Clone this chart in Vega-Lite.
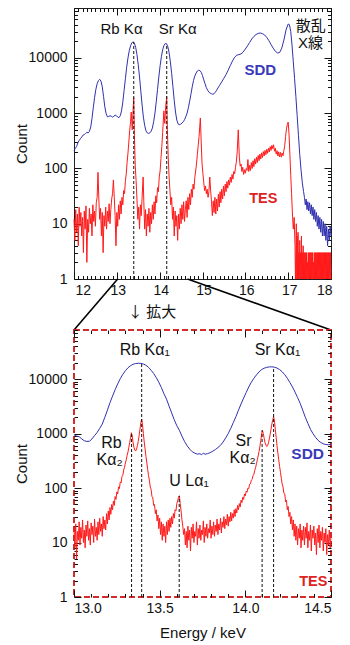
{
"$schema": "https://vega.github.io/schema/vega-lite/v6.json",
"padding": {"left": 13, "top": 7, "right": 0, "bottom": 0},
"background": "white",
"bounds": "flush",
"spacing": 51,
"datasets": {
"sddTop": [{"e":12,"c":210},{"e":12.03,"c":230},{"e":12.06,"c":250},{"e":12.09,"c":290},{"e":12.12,"c":320},{"e":12.15,"c":345},{"e":12.18,"c":370},{"e":12.21,"c":400},{"e":12.24,"c":410},{"e":12.27,"c":430},{"e":12.3,"c":450},{"e":12.33,"c":440},{"e":12.36,"c":470},{"e":12.39,"c":560},{"e":12.42,"c":800},{"e":12.45,"c":1250},{"e":12.48,"c":1900},{"e":12.51,"c":2700},{"e":12.54,"c":3400},{"e":12.57,"c":3900},{"e":12.6,"c":4100},{"e":12.63,"c":3800},{"e":12.66,"c":3000},{"e":12.69,"c":2000},{"e":12.72,"c":1300},{"e":12.75,"c":980},{"e":12.78,"c":860},{"e":12.81,"c":870},{"e":12.84,"c":900},{"e":12.87,"c":880},{"e":12.9,"c":850},{"e":12.93,"c":880},{"e":12.96,"c":920},{"e":12.99,"c":900},{"e":13.02,"c":850},{"e":13.05,"c":830},{"e":13.08,"c":900},{"e":13.11,"c":1100},{"e":13.14,"c":1600},{"e":13.17,"c":2600},{"e":13.2,"c":4200},{"e":13.23,"c":6800},{"e":13.26,"c":10000},{"e":13.29,"c":13500},{"e":13.32,"c":16500},{"e":13.35,"c":18800},{"e":13.38,"c":19500},{"e":13.41,"c":18500},{"e":13.44,"c":15500},{"e":13.47,"c":11500},{"e":13.5,"c":7500},{"e":13.53,"c":4500},{"e":13.56,"c":2500},{"e":13.59,"c":1400},{"e":13.62,"c":850},{"e":13.65,"c":600},{"e":13.68,"c":480},{"e":13.71,"c":440},{"e":13.74,"c":430},{"e":13.77,"c":440},{"e":13.8,"c":470},{"e":13.83,"c":540},{"e":13.86,"c":700},{"e":13.89,"c":1000},{"e":13.92,"c":1600},{"e":13.95,"c":2700},{"e":13.98,"c":4500},{"e":14.01,"c":7200},{"e":14.04,"c":10500},{"e":14.07,"c":14000},{"e":14.1,"c":16800},{"e":14.13,"c":18200},{"e":14.16,"c":18000},{"e":14.19,"c":16000},{"e":14.22,"c":12500},{"e":14.25,"c":8500},{"e":14.28,"c":5200},{"e":14.31,"c":3000},{"e":14.34,"c":1700},{"e":14.37,"c":1050},{"e":14.4,"c":750},{"e":14.43,"c":640},{"e":14.46,"c":620},{"e":14.49,"c":630},{"e":14.52,"c":660},{"e":14.55,"c":700},{"e":14.58,"c":760},{"e":14.61,"c":860},{"e":14.64,"c":1000},{"e":14.67,"c":1250},{"e":14.7,"c":1650},{"e":14.73,"c":2200},{"e":14.76,"c":3000},{"e":14.79,"c":3900},{"e":14.82,"c":4700},{"e":14.85,"c":5300},{"e":14.88,"c":5800},{"e":14.91,"c":6000},{"e":14.94,"c":5900},{"e":14.97,"c":5500},{"e":15,"c":4800},{"e":15.03,"c":4000},{"e":15.06,"c":3400},{"e":15.09,"c":2900},{"e":15.12,"c":2600},{"e":15.15,"c":2400},{"e":15.18,"c":2300},{"e":15.21,"c":2250},{"e":15.24,"c":2200},{"e":15.27,"c":2250},{"e":15.3,"c":2400},{"e":15.33,"c":2600},{"e":15.36,"c":2850},{"e":15.4,"c":3200},{"e":15.45,"c":3700},{"e":15.5,"c":4300},{"e":15.55,"c":5000},{"e":15.6,"c":6000},{"e":15.65,"c":7300},{"e":15.7,"c":8800},{"e":15.75,"c":10300},{"e":15.8,"c":11200},{"e":15.85,"c":11500},{"e":15.9,"c":11800},{"e":15.95,"c":12800},{"e":16,"c":14500},{"e":16.05,"c":16500},{"e":16.1,"c":19000},{"e":16.15,"c":22000},{"e":16.2,"c":24500},{"e":16.25,"c":26500},{"e":16.3,"c":27800},{"e":16.35,"c":28200},{"e":16.4,"c":27500},{"e":16.45,"c":26000},{"e":16.5,"c":23500},{"e":16.55,"c":20500},{"e":16.6,"c":17500},{"e":16.65,"c":15000},{"e":16.7,"c":13200},{"e":16.75,"c":12300},{"e":16.8,"c":12500},{"e":16.85,"c":15000},{"e":16.9,"c":21000},{"e":16.95,"c":32000},{"e":17,"c":41000},{"e":17.03,"c":40000},{"e":17.06,"c":30000},{"e":17.09,"c":17000},{"e":17.12,"c":8500},{"e":17.15,"c":4200},{"e":17.18,"c":2000},{"e":17.21,"c":900},{"e":17.24,"c":400},{"e":17.27,"c":180},{"e":17.3,"c":95},{"e":17.33,"c":55},{"e":17.36,"c":38},{"e":17.38,"c":30},{"e":17.4,"c":22},{"e":17.42,"c":28},{"e":17.44,"c":18},{"e":17.46,"c":25},{"e":17.48,"c":17},{"e":17.5,"c":24},{"e":17.52,"c":15},{"e":17.54,"c":22},{"e":17.56,"c":14},{"e":17.58,"c":20},{"e":17.6,"c":12},{"e":17.62,"c":18},{"e":17.64,"c":11},{"e":17.66,"c":16},{"e":17.68,"c":9},{"e":17.7,"c":14},{"e":17.72,"c":8},{"e":17.74,"c":13},{"e":17.76,"c":7},{"e":17.78,"c":12},{"e":17.8,"c":6},{"e":17.82,"c":11},{"e":17.84,"c":6},{"e":17.86,"c":10},{"e":17.88,"c":5},{"e":17.9,"c":9},{"e":17.92,"c":4},{"e":17.94,"c":8},{"e":17.96,"c":5},{"e":17.98,"c":9},{"e":18,"c":6}],
"tesTop": [{"e":12,"c":12},{"e":12.02,"c":5},{"e":12.04,"c":18},{"e":12.06,"c":7},{"e":12.08,"c":15},{"e":12.1,"c":4},{"e":12.12,"c":20},{"e":12.14,"c":9},{"e":12.16,"c":16},{"e":12.18,"c":6},{"e":12.2,"c":13},{"e":12.22,"c":3},{"e":12.24,"c":17},{"e":12.26,"c":8},{"e":12.28,"c":21},{"e":12.3,"c":2},{"e":12.32,"c":12},{"e":12.34,"c":7},{"e":12.36,"c":19},{"e":12.38,"c":10},{"e":12.4,"c":15},{"e":12.42,"c":6},{"e":12.44,"c":22},{"e":12.46,"c":11},{"e":12.48,"c":17},{"e":12.5,"c":9},{"e":12.52,"c":24},{"e":12.54,"c":30},{"e":12.56,"c":85},{"e":12.58,"c":28},{"e":12.6,"c":12},{"e":12.62,"c":19},{"e":12.64,"c":6},{"e":12.66,"c":16},{"e":12.68,"c":3},{"e":12.7,"c":14},{"e":12.72,"c":9},{"e":12.74,"c":20},{"e":12.76,"c":8},{"e":12.78,"c":17},{"e":12.8,"c":11},{"e":12.82,"c":23},{"e":12.84,"c":10},{"e":12.86,"c":18},{"e":12.88,"c":28},{"e":12.9,"c":35},{"e":12.92,"c":62},{"e":12.94,"c":30},{"e":12.96,"c":14},{"e":12.98,"c":4},{"e":13,"c":16},{"e":13.02,"c":9},{"e":13.04,"c":22},{"e":13.06,"c":12},{"e":13.08,"c":26},{"e":13.1,"c":15},{"e":13.12,"c":30},{"e":13.14,"c":22},{"e":13.16,"c":40},{"e":13.18,"c":35},{"e":13.2,"c":60},{"e":13.22,"c":80},{"e":13.24,"c":130},{"e":13.26,"c":190},{"e":13.28,"c":300},{"e":13.3,"c":480},{"e":13.32,"c":700},{"e":13.336,"c":1050},{"e":13.36,"c":500},{"e":13.38,"c":1200},{"e":13.395,"c":1900},{"e":13.41,"c":400},{"e":13.43,"c":110},{"e":13.45,"c":60},{"e":13.47,"c":28},{"e":13.49,"c":12},{"e":13.51,"c":20},{"e":13.53,"c":8},{"e":13.55,"c":22},{"e":13.57,"c":14},{"e":13.59,"c":30},{"e":13.614,"c":70},{"e":13.63,"c":25},{"e":13.65,"c":8},{"e":13.67,"c":18},{"e":13.69,"c":6},{"e":13.71,"c":15},{"e":13.73,"c":9},{"e":13.75,"c":19},{"e":13.77,"c":7},{"e":13.79,"c":16},{"e":13.81,"c":10},{"e":13.83,"c":22},{"e":13.85,"c":12},{"e":13.87,"c":25},{"e":13.89,"c":15},{"e":13.91,"c":32},{"e":13.93,"c":24},{"e":13.95,"c":45},{"e":13.97,"c":38},{"e":13.99,"c":70},{"e":14.01,"c":90},{"e":14.03,"c":150},{"e":14.05,"c":250},{"e":14.07,"c":450},{"e":14.098,"c":1100},{"e":14.12,"c":650},{"e":14.14,"c":1300},{"e":14.165,"c":2000},{"e":14.18,"c":500},{"e":14.2,"c":160},{"e":14.22,"c":70},{"e":14.24,"c":40},{"e":14.26,"c":22},{"e":14.28,"c":30},{"e":14.3,"c":12},{"e":14.32,"c":20},{"e":14.34,"c":6},{"e":14.36,"c":17},{"e":14.38,"c":9},{"e":14.4,"c":14},{"e":14.42,"c":5},{"e":14.44,"c":15},{"e":14.46,"c":8},{"e":14.48,"c":19},{"e":14.5,"c":10},{"e":14.52,"c":22},{"e":14.54,"c":12},{"e":14.56,"c":25},{"e":14.58,"c":11},{"e":14.6,"c":18},{"e":14.62,"c":26},{"e":14.64,"c":13},{"e":14.66,"c":30},{"e":14.68,"c":18},{"e":14.7,"c":35},{"e":14.72,"c":22},{"e":14.74,"c":42},{"e":14.76,"c":30},{"e":14.78,"c":52},{"e":14.8,"c":42},{"e":14.82,"c":68},{"e":14.84,"c":90},{"e":14.86,"c":120},{"e":14.88,"c":180},{"e":14.9,"c":260},{"e":14.92,"c":380},{"e":14.95,"c":820},{"e":14.97,"c":300},{"e":14.99,"c":120},{"e":15.01,"c":80},{"e":15.03,"c":55},{"e":15.05,"c":40},{"e":15.07,"c":48},{"e":15.09,"c":35},{"e":15.11,"c":42},{"e":15.13,"c":30},{"e":15.15,"c":38},{"e":15.17,"c":70},{"e":15.19,"c":40},{"e":15.21,"c":25},{"e":15.23,"c":14},{"e":15.25,"c":26},{"e":15.27,"c":16},{"e":15.29,"c":30},{"e":15.31,"c":15},{"e":15.33,"c":28},{"e":15.35,"c":17},{"e":15.37,"c":34},{"e":15.39,"c":20},{"e":15.41,"c":38},{"e":15.43,"c":24},{"e":15.45,"c":42},{"e":15.47,"c":28},{"e":15.49,"c":48},{"e":15.51,"c":32},{"e":15.53,"c":52},{"e":15.55,"c":38},{"e":15.57,"c":58},{"e":15.59,"c":44},{"e":15.61,"c":62},{"e":15.63,"c":50},{"e":15.65,"c":70},{"e":15.67,"c":56},{"e":15.69,"c":78},{"e":15.71,"c":64},{"e":15.73,"c":88},{"e":15.75,"c":80},{"e":15.77,"c":105},{"e":15.79,"c":130},{"e":15.81,"c":200},{"e":15.835,"c":500},{"e":15.86,"c":160},{"e":15.88,"c":110},{"e":15.9,"c":120},{"e":15.92,"c":88},{"e":15.94,"c":105},{"e":15.96,"c":78},{"e":15.98,"c":95},{"e":16,"c":82},{"e":16.02,"c":100},{"e":16.04,"c":92},{"e":16.06,"c":145},{"e":16.08,"c":88},{"e":16.1,"c":115},{"e":16.12,"c":92},{"e":16.14,"c":128},{"e":16.16,"c":100},{"e":16.18,"c":138},{"e":16.2,"c":108},{"e":16.22,"c":150},{"e":16.24,"c":120},{"e":16.26,"c":160},{"e":16.28,"c":128},{"e":16.3,"c":172},{"e":16.32,"c":138},{"e":16.34,"c":182},{"e":16.36,"c":148},{"e":16.38,"c":192},{"e":16.4,"c":158},{"e":16.42,"c":202},{"e":16.44,"c":168},{"e":16.46,"c":212},{"e":16.48,"c":178},{"e":16.5,"c":222},{"e":16.52,"c":188},{"e":16.54,"c":232},{"e":16.56,"c":198},{"e":16.58,"c":248},{"e":16.6,"c":212},{"e":16.62,"c":262},{"e":16.64,"c":228},{"e":16.66,"c":268},{"e":16.68,"c":205},{"e":16.7,"c":232},{"e":16.72,"c":182},{"e":16.74,"c":210},{"e":16.76,"c":168},{"e":16.78,"c":200},{"e":16.8,"c":162},{"e":16.82,"c":195},{"e":16.84,"c":160},{"e":16.86,"c":190},{"e":16.88,"c":170},{"e":16.9,"c":210},{"e":16.92,"c":260},{"e":16.94,"c":380},{"e":16.96,"c":520},{"e":16.98,"c":620},{"e":17,"c":690},{"e":17.02,"c":420},{"e":17.04,"c":180},{"e":17.06,"c":75},{"e":17.08,"c":35},{"e":17.1,"c":15},{"e":17.12,"c":8},{"e":17.14,"c":13},{"e":17.16,"c":4},{"e":17.17,"c":1},{"e":17.18,"c":3},{"e":17.19,"c":10},{"e":17.2,"c":1},{"e":17.21,"c":6},{"e":17.22,"c":1},{"e":17.23,"c":7},{"e":17.24,"c":1},{"e":17.25,"c":3},{"e":17.26,"c":1},{"e":17.27,"c":5},{"e":17.28,"c":1},{"e":17.29,"c":3},{"e":17.3,"c":1},{"e":17.31,"c":6},{"e":17.32,"c":1},{"e":17.33,"c":3},{"e":17.34,"c":1},{"e":17.35,"c":4},{"e":17.36,"c":1},{"e":17.37,"c":3},{"e":17.38,"c":1},{"e":17.39,"c":3},{"e":17.4,"c":1},{"e":17.41,"c":3},{"e":17.42,"c":1},{"e":17.43,"c":3},{"e":17.44,"c":1},{"e":17.45,"c":2},{"e":17.46,"c":1},{"e":17.47,"c":3},{"e":17.48,"c":1},{"e":17.49,"c":3},{"e":17.5,"c":1},{"e":17.51,"c":3},{"e":17.52,"c":1},{"e":17.53,"c":3},{"e":17.54,"c":1},{"e":17.55,"c":3},{"e":17.56,"c":1},{"e":17.57,"c":3},{"e":17.58,"c":1},{"e":17.59,"c":2},{"e":17.6,"c":1},{"e":17.61,"c":3},{"e":17.62,"c":1},{"e":17.63,"c":3},{"e":17.64,"c":1},{"e":17.65,"c":3},{"e":17.66,"c":1},{"e":17.67,"c":3},{"e":17.68,"c":1},{"e":17.69,"c":3},{"e":17.7,"c":1},{"e":17.71,"c":3},{"e":17.72,"c":1},{"e":17.73,"c":3},{"e":17.74,"c":1},{"e":17.75,"c":3},{"e":17.76,"c":1},{"e":17.77,"c":3},{"e":17.78,"c":1},{"e":17.79,"c":3},{"e":17.8,"c":1},{"e":17.81,"c":3},{"e":17.82,"c":1},{"e":17.83,"c":3},{"e":17.84,"c":1},{"e":17.85,"c":3},{"e":17.86,"c":1},{"e":17.87,"c":3},{"e":17.88,"c":1},{"e":17.89,"c":3},{"e":17.9,"c":1},{"e":17.91,"c":3},{"e":17.92,"c":1},{"e":17.93,"c":3},{"e":17.94,"c":1},{"e":17.95,"c":3},{"e":17.96,"c":1},{"e":17.97,"c":3},{"e":17.98,"c":1},{"e":17.99,"c":3},{"e":18,"c":1}],
"sddBot": [{"e":13,"c":950},{"e":13.015,"c":900},{"e":13.03,"c":880},{"e":13.045,"c":800},{"e":13.06,"c":740},{"e":13.075,"c":720},{"e":13.09,"c":725},{"e":13.105,"c":800},{"e":13.12,"c":920},{"e":13.135,"c":1050},{"e":13.15,"c":1250},{"e":13.165,"c":1500},{"e":13.18,"c":2000},{"e":13.195,"c":2700},{"e":13.21,"c":3700},{"e":13.225,"c":4900},{"e":13.24,"c":6400},{"e":13.255,"c":8200},{"e":13.27,"c":10200},{"e":13.285,"c":12300},{"e":13.3,"c":14300},{"e":13.315,"c":16200},{"e":13.33,"c":17700},{"e":13.345,"c":18800},{"e":13.36,"c":19400},{"e":13.375,"c":19600},{"e":13.39,"c":19500},{"e":13.405,"c":19000},{"e":13.42,"c":18000},{"e":13.435,"c":16500},{"e":13.45,"c":14600},{"e":13.465,"c":12700},{"e":13.48,"c":10700},{"e":13.495,"c":8800},{"e":13.51,"c":7000},{"e":13.525,"c":5400},{"e":13.54,"c":4300},{"e":13.555,"c":3200},{"e":13.57,"c":2400},{"e":13.585,"c":1800},{"e":13.6,"c":1400},{"e":13.615,"c":1150},{"e":13.63,"c":900},{"e":13.645,"c":720},{"e":13.66,"c":600},{"e":13.675,"c":520},{"e":13.69,"c":465},{"e":13.705,"c":438},{"e":13.72,"c":420},{"e":13.735,"c":428},{"e":13.745,"c":408},{"e":13.755,"c":440},{"e":13.765,"c":418},{"e":13.78,"c":430},{"e":13.795,"c":448},{"e":13.81,"c":475},{"e":13.825,"c":510},{"e":13.84,"c":555},{"e":13.855,"c":610},{"e":13.87,"c":700},{"e":13.885,"c":830},{"e":13.9,"c":1000},{"e":13.915,"c":1250},{"e":13.93,"c":1600},{"e":13.945,"c":2050},{"e":13.96,"c":2700},{"e":13.975,"c":3500},{"e":13.99,"c":4500},{"e":14.005,"c":5700},{"e":14.02,"c":7200},{"e":14.035,"c":8800},{"e":14.05,"c":10400},{"e":14.065,"c":12000},{"e":14.08,"c":13600},{"e":14.095,"c":15000},{"e":14.11,"c":15900},{"e":14.125,"c":16500},{"e":14.14,"c":16800},{"e":14.155,"c":16850},{"e":14.17,"c":16600},{"e":14.185,"c":16000},{"e":14.2,"c":15000},{"e":14.215,"c":13700},{"e":14.23,"c":12100},{"e":14.245,"c":10400},{"e":14.26,"c":8700},{"e":14.275,"c":7200},{"e":14.29,"c":5800},{"e":14.305,"c":4600},{"e":14.32,"c":3600},{"e":14.335,"c":2700},{"e":14.35,"c":2000},{"e":14.365,"c":1550},{"e":14.38,"c":1200},{"e":14.395,"c":1000},{"e":14.41,"c":850},{"e":14.425,"c":750},{"e":14.44,"c":690},{"e":14.455,"c":650},{"e":14.47,"c":630},{"e":14.485,"c":625},{"e":14.5,"c":630}],
"tesBot": [{"e":13,"c":18},{"e":13.005,"c":8},{"e":13.01,"c":22},{"e":13.015,"c":5},{"e":13.02,"c":16},{"e":13.025,"c":11},{"e":13.03,"c":24},{"e":13.035,"c":9},{"e":13.04,"c":19},{"e":13.045,"c":12},{"e":13.05,"c":26},{"e":13.055,"c":10},{"e":13.06,"c":17},{"e":13.065,"c":8},{"e":13.07,"c":21},{"e":13.075,"c":13},{"e":13.08,"c":25},{"e":13.085,"c":11},{"e":13.09,"c":18},{"e":13.095,"c":9},{"e":13.1,"c":23},{"e":13.105,"c":14},{"e":13.11,"c":20},{"e":13.115,"c":10},{"e":13.12,"c":27},{"e":13.125,"c":13},{"e":13.13,"c":19},{"e":13.135,"c":11},{"e":13.14,"c":24},{"e":13.145,"c":14},{"e":13.15,"c":28},{"e":13.155,"c":16},{"e":13.16,"c":22},{"e":13.165,"c":13},{"e":13.17,"c":30},{"e":13.175,"c":18},{"e":13.18,"c":26},{"e":13.185,"c":17},{"e":13.19,"c":34},{"e":13.195,"c":22},{"e":13.2,"c":38},{"e":13.205,"c":26},{"e":13.21,"c":44},{"e":13.215,"c":33},{"e":13.22,"c":50},{"e":13.225,"c":40},{"e":13.23,"c":58},{"e":13.235,"c":48},{"e":13.24,"c":70},{"e":13.245,"c":62},{"e":13.25,"c":85},{"e":13.255,"c":78},{"e":13.26,"c":105},{"e":13.265,"c":98},{"e":13.27,"c":130},{"e":13.275,"c":125},{"e":13.28,"c":165},{"e":13.285,"c":170},{"e":13.29,"c":215},{"e":13.295,"c":240},{"e":13.3,"c":290},{"e":13.305,"c":330},{"e":13.31,"c":400},{"e":13.315,"c":460},{"e":13.32,"c":560},{"e":13.325,"c":680},{"e":13.33,"c":850},{"e":13.335,"c":1040},{"e":13.34,"c":900},{"e":13.345,"c":680},{"e":13.35,"c":560},{"e":13.355,"c":500},{"e":13.36,"c":480},{"e":13.365,"c":520},{"e":13.37,"c":600},{"e":13.375,"c":720},{"e":13.38,"c":920},{"e":13.385,"c":1200},{"e":13.39,"c":1600},{"e":13.395,"c":1850},{"e":13.4,"c":1450},{"e":13.405,"c":1000},{"e":13.41,"c":700},{"e":13.415,"c":520},{"e":13.42,"c":380},{"e":13.425,"c":290},{"e":13.43,"c":220},{"e":13.435,"c":170},{"e":13.44,"c":140},{"e":13.445,"c":105},{"e":13.45,"c":95},{"e":13.455,"c":70},{"e":13.46,"c":66},{"e":13.465,"c":48},{"e":13.47,"c":50},{"e":13.475,"c":34},{"e":13.48,"c":40},{"e":13.485,"c":25},{"e":13.49,"c":32},{"e":13.495,"c":18},{"e":13.5,"c":28},{"e":13.505,"c":14},{"e":13.51,"c":24},{"e":13.515,"c":11},{"e":13.52,"c":22},{"e":13.525,"c":13},{"e":13.53,"c":20},{"e":13.535,"c":10},{"e":13.54,"c":24},{"e":13.545,"c":14},{"e":13.55,"c":26},{"e":13.555,"c":16},{"e":13.56,"c":28},{"e":13.565,"c":19},{"e":13.57,"c":30},{"e":13.575,"c":22},{"e":13.58,"c":34},{"e":13.585,"c":28},{"e":13.59,"c":40},{"e":13.595,"c":38},{"e":13.6,"c":52},{"e":13.605,"c":58},{"e":13.61,"c":68},{"e":13.615,"c":72},{"e":13.62,"c":52},{"e":13.625,"c":38},{"e":13.63,"c":26},{"e":13.635,"c":20},{"e":13.64,"c":14},{"e":13.645,"c":18},{"e":13.65,"c":9},{"e":13.655,"c":16},{"e":13.66,"c":8},{"e":13.665,"c":20},{"e":13.67,"c":11},{"e":13.675,"c":17},{"e":13.68,"c":7},{"e":13.685,"c":19},{"e":13.69,"c":12},{"e":13.695,"c":22},{"e":13.7,"c":10},{"e":13.705,"c":16},{"e":13.71,"c":13},{"e":13.715,"c":24},{"e":13.72,"c":9},{"e":13.725,"c":18},{"e":13.73,"c":12},{"e":13.735,"c":21},{"e":13.74,"c":11},{"e":13.745,"c":17},{"e":13.75,"c":14},{"e":13.755,"c":25},{"e":13.76,"c":10},{"e":13.765,"c":19},{"e":13.77,"c":13},{"e":13.775,"c":22},{"e":13.78,"c":12},{"e":13.785,"c":18},{"e":13.79,"c":15},{"e":13.795,"c":26},{"e":13.8,"c":12},{"e":13.805,"c":20},{"e":13.81,"c":14},{"e":13.815,"c":24},{"e":13.82,"c":13},{"e":13.825,"c":21},{"e":13.83,"c":16},{"e":13.835,"c":27},{"e":13.84,"c":14},{"e":13.845,"c":22},{"e":13.85,"c":17},{"e":13.855,"c":28},{"e":13.86,"c":15},{"e":13.865,"c":24},{"e":13.87,"c":19},{"e":13.875,"c":30},{"e":13.88,"c":18},{"e":13.885,"c":27},{"e":13.89,"c":21},{"e":13.895,"c":33},{"e":13.9,"c":20},{"e":13.905,"c":30},{"e":13.91,"c":24},{"e":13.915,"c":36},{"e":13.92,"c":25},{"e":13.925,"c":34},{"e":13.93,"c":28},{"e":13.935,"c":40},{"e":13.94,"c":30},{"e":13.945,"c":42},{"e":13.95,"c":35},{"e":13.955,"c":48},{"e":13.96,"c":40},{"e":13.965,"c":52},{"e":13.97,"c":45},{"e":13.975,"c":60},{"e":13.98,"c":54},{"e":13.985,"c":68},{"e":13.99,"c":62},{"e":13.995,"c":78},{"e":14,"c":72},{"e":14.005,"c":88},{"e":14.01,"c":84},{"e":14.015,"c":100},{"e":14.02,"c":98},{"e":14.025,"c":118},{"e":14.03,"c":120},{"e":14.035,"c":140},{"e":14.04,"c":145},{"e":14.045,"c":170},{"e":14.05,"c":180},{"e":14.055,"c":210},{"e":14.06,"c":240},{"e":14.065,"c":280},{"e":14.07,"c":330},{"e":14.075,"c":390},{"e":14.08,"c":470},{"e":14.085,"c":580},{"e":14.09,"c":740},{"e":14.095,"c":980},{"e":14.1,"c":1150},{"e":14.105,"c":1000},{"e":14.11,"c":820},{"e":14.115,"c":680},{"e":14.12,"c":620},{"e":14.125,"c":580},{"e":14.13,"c":600},{"e":14.135,"c":680},{"e":14.14,"c":800},{"e":14.145,"c":980},{"e":14.15,"c":1200},{"e":14.155,"c":1500},{"e":14.16,"c":1800},{"e":14.165,"c":2050},{"e":14.17,"c":1700},{"e":14.175,"c":1200},{"e":14.18,"c":850},{"e":14.185,"c":600},{"e":14.19,"c":440},{"e":14.195,"c":330},{"e":14.2,"c":250},{"e":14.205,"c":195},{"e":14.21,"c":150},{"e":14.215,"c":120},{"e":14.22,"c":105},{"e":14.225,"c":80},{"e":14.23,"c":78},{"e":14.235,"c":56},{"e":14.24,"c":60},{"e":14.245,"c":40},{"e":14.25,"c":46},{"e":14.255,"c":30},{"e":14.26,"c":36},{"e":14.265,"c":22},{"e":14.27,"c":30},{"e":14.275,"c":17},{"e":14.28,"c":26},{"e":14.285,"c":13},{"e":14.29,"c":22},{"e":14.295,"c":11},{"e":14.3,"c":20},{"e":14.305,"c":9},{"e":14.31,"c":18},{"e":14.315,"c":12},{"e":14.32,"c":22},{"e":14.325,"c":8},{"e":14.33,"c":17},{"e":14.335,"c":11},{"e":14.34,"c":20},{"e":14.345,"c":9},{"e":14.35,"c":19},{"e":14.355,"c":12},{"e":14.36,"c":23},{"e":14.365,"c":8},{"e":14.37,"c":16},{"e":14.375,"c":11},{"e":14.38,"c":21},{"e":14.385,"c":7},{"e":14.39,"c":17},{"e":14.395,"c":12},{"e":14.4,"c":20},{"e":14.405,"c":9},{"e":14.41,"c":15},{"e":14.415,"c":6},{"e":14.42,"c":18},{"e":14.425,"c":10},{"e":14.43,"c":21},{"e":14.435,"c":8},{"e":14.44,"c":16},{"e":14.445,"c":11},{"e":14.45,"c":19},{"e":14.455,"c":7},{"e":14.46,"c":15},{"e":14.465,"c":10},{"e":14.47,"c":18},{"e":14.475,"c":6},{"e":14.48,"c":14},{"e":14.485,"c":9},{"e":14.49,"c":17},{"e":14.495,"c":8},{"e":14.5,"c":13}],
"rulesTop": [{"e":13.395,"lo":1,"hi":19500},{"e":14.165,"lo":1,"hi":18000}],
"rulesBot": [{"e":13.336,"lo":1,"hi":1040},{"e":13.395,"lo":1,"hi":19600},{"e":13.614,"lo":1,"hi":72},{"e":14.098,"lo":1,"hi":1150},{"e":14.165,"lo":1,"hi":16800}],
"zoom": [{"g":"L","e":13.02,"c":1},{"g":"L","e":12,"c":0.119},{"g":"R","e":14.65,"c":1},{"g":"R","e":18,"c":0.119}],
"labelsTop": [{"t":"Rb Kα","e":13.11,"c":33000},{"t":"Sr Kα","e":14.42,"c":33000},{"t":"散乱","e":17.53,"c":38000},{"t":"X線","e":17.52,"c":19000}],
"labelsBot": [{"t":"Rb Kα₁","e":13.413,"c":34300},{"t":"Sr Kα₁","e":14.188,"c":34000},{"t":"Rb","e":13.218,"c":665},{"t":"Kα₂","e":13.208,"c":324},{"t":"U Lα₁","e":13.672,"c":135},{"t":"Sr","e":13.99,"c":733},{"t":"Kα₂","e":13.984,"c":350}],
"sddLabTop": [{"t":"SDD","e":16.35,"c":6000}],
"tesLabTop": [{"t":"TES","e":16.42,"c":28}],
"sddLabBot": [{"t":"SDD","e":14.364,"c":417}],
"tesLabBot": [{"t":"TES","e":14.397,"c":1.9}]
},
"vconcat": [
{
"width": 257, "height": 271,
"view": {"stroke": "#222", "strokeWidth": 1},
"resolve": {"axis": {"x": "independent", "y": "independent"}},
"layer": [
{"data": {"name": "sddTop"}, "mark": {"type": "line", "color": "#3030b0", "strokeWidth": 1},
 "encoding": {
  "x": {"field": "e", "type": "quantitative", "scale": {"domain": [12, 18], "nice": false, "zero": false},
   "axis": {"orient": "bottom", "values": [12,13,14,15,16,17,18], "format": "d", "tickSize": -7,
    "labelPadding": 11, "labelFlush": true, "labelOffset": 1, "title": "↓ 拡大", "titleX": 77.5, "titleY": 32, "titleAlign": "center", "titleBaseline": "middle", "titleFont": "Noto Sans CJK JP"}},
  "y": {"field": "c", "type": "quantitative", "scale": {"type": "log", "domain": [1, 80000], "nice": false},
   "axis": {"orient": "left", "values": [1,10,100,1000,10000], "format": "d", "tickSize": -7,
    "labelPadding": 14, "title": "Count", "titlePadding": -1}}
 }},
{"data": {"name": "tesTop"}, "mark": {"type": "line", "color": "#ff1a1a", "strokeWidth": 1},
 "encoding": {
  "x": {"field": "e", "type": "quantitative", "scale": {"domain": [12, 18], "nice": false, "zero": false},
   "axis": {"orient": "top", "values": [12,13,14,15,16,17,18], "labels": false, "title": null, "tickSize": -7}},
  "y": {"field": "c", "type": "quantitative", "scale": {"type": "log", "domain": [1, 80000], "nice": false},
   "axis": {"orient": "right", "values": [1,10,100,1000,10000], "labels": false, "title": null, "tickSize": -7}}
 }},
{"data": {"name": "rulesTop"}, "mark": {"type": "rule", "color": "#111", "strokeDash": [3, 2], "strokeWidth": 1},
 "encoding": {
  "x": {"field": "e", "type": "quantitative", "scale": {"domain": [12, 18], "nice": false, "zero": false},
   "axis": {"orient": "bottom", "values": [12.1,12.2,12.3,12.4,12.5,12.6,12.7,12.8,12.9,13.1,13.2,13.3,13.4,13.5,13.6,13.7,13.8,13.9,14.1,14.2,14.3,14.4,14.5,14.6,14.7,14.8,14.9,15.1,15.2,15.3,15.4,15.5,15.6,15.7,15.8,15.9,16.1,16.2,16.3,16.4,16.5,16.6,16.7,16.8,16.9,17.1,17.2,17.3,17.4,17.5,17.6,17.7,17.8,17.9], "labels": false, "title": null, "tickSize": -3.5}},
  "y": {"field": "lo", "type": "quantitative", "scale": {"type": "log", "domain": [1, 80000], "nice": false},
   "axis": {"orient": "left", "values": [2,3,4,5,6,7,8,9,20,30,40,50,60,70,80,90,200,300,400,500,600,700,800,900,2000,3000,4000,5000,6000,7000,8000,9000,20000,30000,40000,50000,60000,70000,80000], "labels": false, "title": null, "tickSize": -3.5}},
  "y2": {"field": "hi"}
 }},
{"data": {"name": "labelsTop"}, "mark": {"type": "text", "fontSize": 15, "color": "#111", "align": "center", "baseline": "middle", "font": "Liberation Sans, Noto Sans CJK JP"},
 "encoding": {
  "x": {"field": "e", "type": "quantitative", "scale": {"domain": [12, 18], "nice": false, "zero": false},
   "axis": {"orient": "top", "values": [12.1,12.2,12.3,12.4,12.5,12.6,12.7,12.8,12.9,13.1,13.2,13.3,13.4,13.5,13.6,13.7,13.8,13.9,14.1,14.2,14.3,14.4,14.5,14.6,14.7,14.8,14.9,15.1,15.2,15.3,15.4,15.5,15.6,15.7,15.8,15.9,16.1,16.2,16.3,16.4,16.5,16.6,16.7,16.8,16.9,17.1,17.2,17.3,17.4,17.5,17.6,17.7,17.8,17.9], "labels": false, "title": null, "tickSize": -3.5}},
  "y": {"field": "c", "type": "quantitative", "scale": {"type": "log", "domain": [1, 80000], "nice": false},
   "axis": {"orient": "right", "values": [2,3,4,5,6,7,8,9,20,30,40,50,60,70,80,90,200,300,400,500,600,700,800,900,2000,3000,4000,5000,6000,7000,8000,9000,20000,30000,40000,50000,60000,70000,80000], "labels": false, "title": null, "tickSize": -3.5}},
  "text": {"field": "t"}
 }},
{"data": {"name": "zoom"}, "mark": {"type": "line", "color": "#000", "strokeWidth": 1.6, "clip": false},
 "encoding": {
  "x": {"field": "e", "type": "quantitative", "scale": {"domain": [12, 18], "nice": false, "zero": false}, "axis": null},
  "y": {"field": "c", "type": "quantitative", "scale": {"type": "log", "domain": [1, 80000], "nice": false}, "axis": null},
  "detail": {"field": "g"}
 }},
{"data": {"name": "sddLabTop"}, "mark": {"type": "text", "fontSize": 15, "fontWeight": "bold", "color": "#3a3ab8", "align": "center", "baseline": "middle", "font": "Liberation Sans"},
 "encoding": {
  "x": {"field": "e", "type": "quantitative", "scale": {"domain": [12, 18], "nice": false, "zero": false}, "axis": null},
  "y": {"field": "c", "type": "quantitative", "scale": {"type": "log", "domain": [1, 80000], "nice": false}, "axis": null},
  "text": {"field": "t"}
 }},
{"data": {"name": "tesLabTop"}, "mark": {"type": "text", "fontSize": 14.5, "fontWeight": "bold", "color": "#dd2222", "align": "center", "baseline": "middle", "font": "Liberation Sans"},
 "encoding": {
  "x": {"field": "e", "type": "quantitative", "scale": {"domain": [12, 18], "nice": false, "zero": false}, "axis": null},
  "y": {"field": "c", "type": "quantitative", "scale": {"type": "log", "domain": [1, 80000], "nice": false}, "axis": null},
  "text": {"field": "t"}
 }}
]
},
{
"width": 257, "height": 267,
"view": {"stroke": "#d42a2a", "strokeWidth": 2, "strokeDash": [6, 3]},
"resolve": {"axis": {"x": "independent", "y": "independent"}},
"layer": [
{"data": {"name": "sddBot"}, "mark": {"type": "line", "color": "#3030b0", "strokeWidth": 1},
 "encoding": {
  "x": {"field": "e", "type": "quantitative", "scale": {"domain": [13, 14.5], "nice": false, "zero": false},
   "axis": {"orient": "bottom", "values": [13,13.5,14,14.5], "format": ".1f", "tickSize": -7,
    "labelPadding": 11, "title": "Energy / keV", "titlePadding": 10}},
  "y": {"field": "c", "type": "quantitative", "scale": {"type": "log", "domain": [1, 80000], "nice": false},
   "axis": {"orient": "left", "values": [1,10,100,1000,10000], "format": "d", "tickSize": -7,
    "labelPadding": 14, "title": "Count", "titlePadding": -1}}
 }},
{"data": {"name": "tesBot"}, "mark": {"type": "line", "color": "#ff1a1a", "strokeWidth": 1},
 "encoding": {
  "x": {"field": "e", "type": "quantitative", "scale": {"domain": [13, 14.5], "nice": false, "zero": false},
   "axis": {"orient": "top", "values": [13,13.5,14,14.5], "labels": false, "title": null, "tickSize": -7}},
  "y": {"field": "c", "type": "quantitative", "scale": {"type": "log", "domain": [1, 80000], "nice": false},
   "axis": {"orient": "right", "values": [1,10,100,1000,10000], "labels": false, "title": null, "tickSize": -7}}
 }},
{"data": {"name": "rulesBot"}, "mark": {"type": "rule", "color": "#111", "strokeDash": [3, 2], "strokeWidth": 1},
 "encoding": {
  "x": {"field": "e", "type": "quantitative", "scale": {"domain": [13, 14.5], "nice": false, "zero": false},
   "axis": {"orient": "bottom", "values": [13.1,13.2,13.3,13.4,13.6,13.7,13.8,13.9,14.1,14.2,14.3,14.4], "labels": false, "title": null, "tickSize": -3.5}},
  "y": {"field": "lo", "type": "quantitative", "scale": {"type": "log", "domain": [1, 80000], "nice": false},
   "axis": {"orient": "left", "values": [2,3,4,5,6,7,8,9,20,30,40,50,60,70,80,90,200,300,400,500,600,700,800,900,2000,3000,4000,5000,6000,7000,8000,9000,20000,30000,40000,50000,60000,70000,80000], "labels": false, "title": null, "tickSize": -3.5}},
  "y2": {"field": "hi"}
 }},
{"data": {"name": "labelsBot"}, "mark": {"type": "text", "fontSize": 16, "color": "#111", "align": "center", "baseline": "middle", "font": "Liberation Sans, DejaVu Sans"},
 "encoding": {
  "x": {"field": "e", "type": "quantitative", "scale": {"domain": [13, 14.5], "nice": false, "zero": false},
   "axis": {"orient": "top", "values": [13.1,13.2,13.3,13.4,13.6,13.7,13.8,13.9,14.1,14.2,14.3,14.4], "labels": false, "title": null, "tickSize": -3.5}},
  "y": {"field": "c", "type": "quantitative", "scale": {"type": "log", "domain": [1, 80000], "nice": false},
   "axis": {"orient": "right", "values": [2,3,4,5,6,7,8,9,20,30,40,50,60,70,80,90,200,300,400,500,600,700,800,900,2000,3000,4000,5000,6000,7000,8000,9000,20000,30000,40000,50000,60000,70000,80000], "labels": false, "title": null, "tickSize": -3.5}},
  "text": {"field": "t"}
 }},
{"data": {"name": "sddLabBot"}, "mark": {"type": "text", "fontSize": 15.5, "fontWeight": "bold", "color": "#3a3ab8", "align": "center", "baseline": "middle", "font": "Liberation Sans"},
 "encoding": {
  "x": {"field": "e", "type": "quantitative", "scale": {"domain": [13, 14.5], "nice": false, "zero": false}, "axis": null},
  "y": {"field": "c", "type": "quantitative", "scale": {"type": "log", "domain": [1, 80000], "nice": false}, "axis": null},
  "text": {"field": "t"}
 }},
{"data": {"name": "tesLabBot"}, "mark": {"type": "text", "fontSize": 14.5, "fontWeight": "bold", "color": "#dd2222", "align": "center", "baseline": "middle", "font": "Liberation Sans"},
 "encoding": {
  "x": {"field": "e", "type": "quantitative", "scale": {"domain": [13, 14.5], "nice": false, "zero": false}, "axis": null},
  "y": {"field": "c", "type": "quantitative", "scale": {"type": "log", "domain": [1, 80000], "nice": false}, "axis": null},
  "text": {"field": "t"}
 }}
]
}
],
"config": {
 "view": {"stroke": null},
 "axis": {"labelFont": "Liberation Sans", "labelFontSize": 14, "labelColor": "#111", "titleFont": "Liberation Sans", "titleFontSize": 15, "titleFontWeight": "normal", "titleColor": "#111", "tickColor": "#111", "tickWidth": 1, "domain": false, "grid": false, "labelOverlap": false}
}
}
